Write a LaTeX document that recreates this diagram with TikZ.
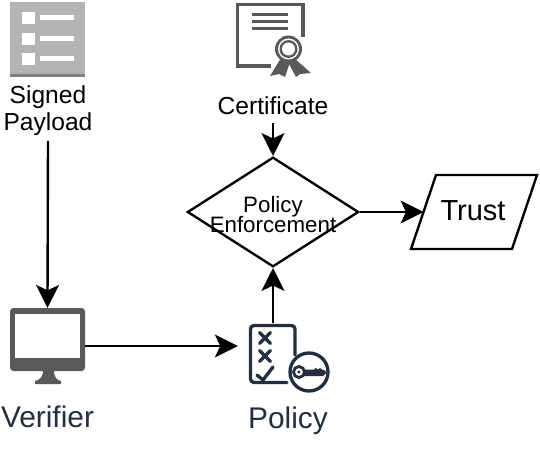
\documentclass[tikz,border=0pt]{standalone}
\usepackage{fontspec}
\setmainfont{Liberation Sans}
\usetikzlibrary{arrows.meta,shapes.geometric}
\definecolor{navy}{HTML}{232F3E}
\definecolor{icongray}{HTML}{595959}
\definecolor{payloadgray}{HTML}{B3B3B3}
\tikzset{
 flow/.style={draw=black,line width=1.35pt,-{Stealth[length=13pt,width=13pt,inset=3pt]}},
 shapeline/.style={draw=black,line width=1.35pt},
 iconbox/.style={inner sep=0pt},
 lbl/.style={font=\fontsize{14}{15.5}\selectfont,align=center,inner sep=0pt},
 navylbl/.style={font=\fontsize{17}{18}\selectfont,text=navy,inner sep=0pt},
 navyline/.style={draw=navy,line width=1.9pt,line cap=round,line join=round}
}
\begin{document}
\begin{tikzpicture}[x=0.02cm,y=-0.02cm]
 \useasboundingbox (0,0) rectangle (540,456);
 % signed payload
 \fill[payloadgray] (10,2) rectangle (85,77);
 \fill[gray] (10,74) rectangle (85,77);
 \foreach \y in {12,33,53} {
  \fill[white] (22,\y) rectangle (35,\y+12);
  \fill[white] (40,\y+3) rectangle (74,\y+8);
 }
 \node[lbl] (payload) at (48,110.5) {Signed\\Payload};
 % certificate
 \draw[icongray,line width=1.8pt] (303,37) -- (303,4.5) -- (237.5,4.5) -- (237.5,66) -- (271,66);
 \foreach \y in {14.5,21.5,28.5}
  \fill[icongray] (252,\y-1.5) rectangle (288,\y+1.5);
 \fill[icongray] (281,58) -- (270,76) -- (279,74) -- (285,77) -- (290,62) -- cycle;
 \fill[icongray] (294,58) -- (311,73) -- (300,74) -- (296,77) -- (288,62) -- cycle;
 \fill[icongray] (288.5,49) circle (13.5);
 \fill[white] (288.5,49) circle (10.5);
 \fill[icongray] (288.5,49) circle (9);
 \fill[white] (288.5,49) circle (6.5);
 \node[lbl] (certificate) at (273,106) {Certificate};
 % decision and result
 \node[diamond,shapeline,aspect=1.564,minimum width=97.5pt,minimum height=62.4pt,inner sep=0pt] (enforce) at (273,212) {};
 \node[lbl,font=\fontsize{12.7}{11.9}\selectfont] (enforcelabel) at (273,214.5) {Policy\\Enforcement};
 \draw[shapeline,line join=miter] (436,175) -- (537,175) -- (512,249) -- (411,249) -- cycle;
 \coordinate (trustin) at (423.5,212);
 \node[lbl,font=\fontsize{16.5}{18}\selectfont] (trust) at (473,211) {Trust};
 % verifier
 \node[iconbox,minimum width=42.5pt,minimum height=43pt] (verifier) at (47.5,346) {};
 \fill[icongray,rounded corners=2pt] (10,308) rectangle (85,371);
 \fill[white] (15,314) rectangle (80,358);
 \fill[icongray] (43,370) -- (54,370) .. controls (54,378) and (57,380) .. (61,381) -- (61,384) -- (35,384) -- (35,381) .. controls (39,380) and (43,378) .. (43,370) -- cycle;
 \node[navylbl] (verifierlabel) at (47.5,417) {Verifier};
 % policy
 \node[iconbox,minimum width=39.7pt,minimum height=34.6pt] (policy) at (273,354) {};
 \draw[navyline,rounded corners=2pt] (295,355) -- (295,325.5) -- (250.5,325.5) -- (250.5,382.5) -- (287,382.5);
 \foreach \y in {338,356} {
  \draw[navyline] (259.5,\y-5.5) -- (270.5,\y+5.5);
  \draw[navyline] (270.5,\y-5.5) -- (259.5,\y+5.5);
 }
 \draw[navyline] (257,375) -- (263,380) -- (273,367);
 \draw[navyline] (309,372) circle (19);
 \draw[navy,line width=1.6pt] (299,372) circle (5.5);
 \fill[navy] (299,372) circle (1.6);
 \fill[navy] (304,369.5) -- (314,369.5) -- (316,368) -- (318,369.5) -- (320,368) -- (322,369.5) -- (325,370.5) -- (326.5,373) -- (323,376) -- (304,376) -- cycle;
 \node[navylbl] (policylabel) at (288,421) {Policy};
 % connectors
 \draw[flow,shorten <=2.8pt] (payload.south) -- (verifier.north);
 \draw[flow] (verifier.east) -- (verifier.east -| policy.west);
 \draw[flow] (policy.north) -- (enforce.south);
 \draw[flow,shorten <=4.5pt] (certificate.south) -- (enforce.north);
 \draw[flow] (enforce.east) -- (trustin);
\end{tikzpicture}
\end{document}
